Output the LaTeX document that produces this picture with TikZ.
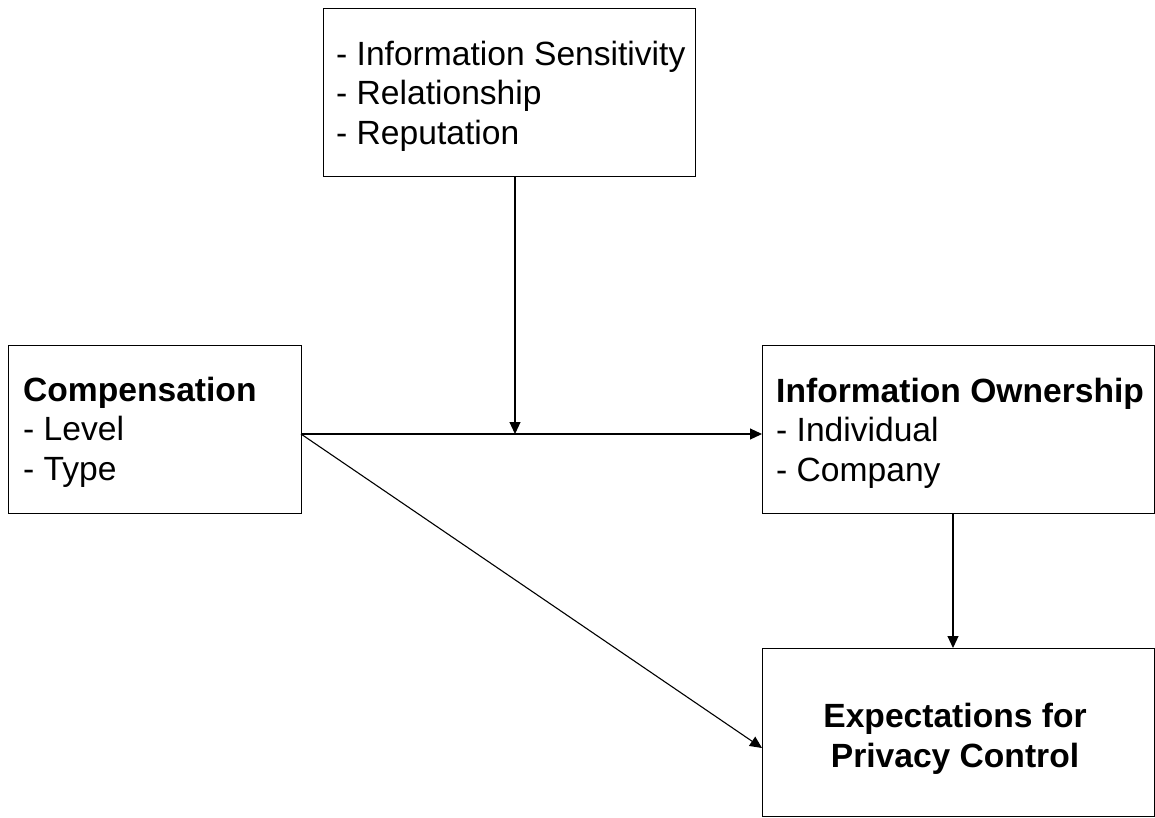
\documentclass[tikz,border=0pt]{standalone}
\usepackage{fontspec}
\setmainfont{Liberation Sans}
\usetikzlibrary{arrows.meta}
\begin{document}
\begin{tikzpicture}[x=1pt,y=-1pt,
  box/.style={draw=black,line width=1.3pt,rectangle,inner sep=0pt,anchor=north west},
  txt/.style={inner sep=0pt,align=left,font=\fontsize{33.6}{39.3}\selectfont},
  link/.style={line width=1.1pt,-{Triangle[length=12pt,width=11pt]}}]
\useasboundingbox (0,0) rectangle (1155,817);

% boxes
\node[box,minimum width=372pt,minimum height=168pt] (factors) at (323,8) {};
\node[box,minimum width=293pt,minimum height=168pt] (comp) at (8,345) {};
\node[box,minimum width=392pt,minimum height=168pt] (own) at (762,345) {};
\node[box,minimum width=392pt,minimum height=168pt] (exp) at (762,648) {};

% texts
\node[txt,anchor=north west] (factorsText) at (336,41)
  {- Information Sensitivity\\- Relationship\\- Reputation};
\node[txt,anchor=north west] (compText) at (23,377)
  {\textbf{Compensation}\\- Level\\- Type};
\node[txt,anchor=north west] (ownText) at (776,378)
  {\textbf{Information Ownership}\\- Individual\\- Company};
\node[txt,anchor=north,align=center,font=\fontsize{33.6}{40}\selectfont\bfseries] (expText) at (955,702.5)
  {Expectations for\\Privacy Control};

% connectors
\coordinate (src) at (301,434);
\coordinate (mid) at (515,434);
\draw[link] (factors.south -| mid) -- (mid);
\draw[link] (src) -- (own.west |- src);
\draw[link] (src) -- (762,748) coordinate (expIn);
\draw[link] (953,513) coordinate (ownOut) -- (ownOut |- exp.north);
\end{tikzpicture}
\end{document}
